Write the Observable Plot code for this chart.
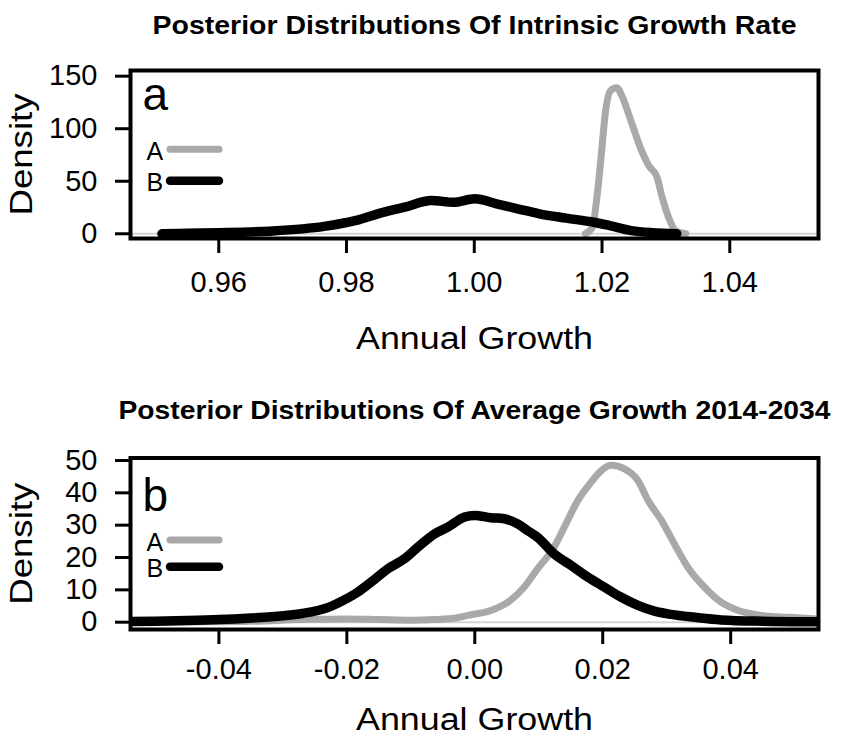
<!DOCTYPE html>
<html><head><meta charset="utf-8">
<script src="https://cdn.jsdelivr.net/npm/d3@7"></script>
<script src="https://cdn.jsdelivr.net/npm/@observablehq/plot@0.6"></script>
<style>
html,body{margin:0;padding:0;background:#fff;}
#root{position:relative;width:845px;height:738px;overflow:hidden;background:#fff;}
#root svg{position:absolute;left:0;}
</style></head>
<body><div id="root"></div>
<script>
// ---- text ----
const titleTop = "Posterior Distributions Of Intrinsic Growth Rate";
const titleBottom = "Posterior Distributions Of Average Growth 2014-2034";
const xLabel = "Annual Growth";
const yLabel = "Density";
const panelLetters = ["a", "b"];
const seriesNames = ["A", "B"];
const seriesColors = ["#a9a9a9", "#000000"];

// ---- tick labels ----
const ticksX1 = [0.96, 0.98, 1.00, 1.02, 1.04];
const ticksY1 = [0, 50, 100, 150];
const ticksX2 = [-0.04, -0.02, 0.00, 0.02, 0.04];
const ticksY2 = [0, 10, 20, 30, 40, 50];

// ---- panel a: intrinsic growth rate ----
const growth1A = [1.0174, 1.0185, 1.0192, 1.0199, 1.0205, 1.0213, 1.0223, 1.0232, 1.0245, 1.0260, 1.0273, 1.0286, 1.0294, 1.0304, 1.0315, 1.0331];
const density1A = [0, 6.3, 34.8, 76, 114, 136, 139, 130, 108, 82, 65, 54, 35, 16, 3, 0];
const growth1B = [0.9511, 0.955, 0.960, 0.968, 0.9765, 0.9798, 0.9815, 0.9849, 0.9891, 0.9933, 0.9967, 1.0001, 1.0035, 1.0068, 1.0102, 1.0144, 1.0187, 1.0212, 1.0246, 1.0279, 1.0317];
const density1B = [0, 0.5, 1, 2.5, 7, 10.5, 12.7, 19, 25.3, 31.7, 30, 33.3, 28.5, 23.8, 19, 14.9, 11, 7.8, 3, 1, 0];

// ---- panel b: average growth 2014-2034 ----
const growth2A = [-0.06, -0.045, -0.035, -0.027, -0.020, -0.015, -0.010, -0.0063, -0.003, -0.0011, 0.0025, 0.0052, 0.0077, 0.0098, 0.0124, 0.0140, 0.0161, 0.0182, 0.0198, 0.0213, 0.0234, 0.0255, 0.0271, 0.0292, 0.0312, 0.0333, 0.0359, 0.0385, 0.0412, 0.0448, 0.0490, 0.0537, 0.060];
const density2A = [0, 0.1, 0.3, 0.8, 1.0, 0.8, 0.6, 0.8, 1.3, 2.1, 3.6, 6.2, 10.8, 16.5, 23.2, 29.4, 37.6, 43.3, 46.9, 48.5, 47.4, 43.8, 37.6, 31.4, 24.2, 17, 10.8, 6.2, 3.6, 2.1, 1.5, 1.0, 0.5];
const growth2B = [-0.060, -0.050, -0.045, -0.040, -0.035, -0.030, -0.027, -0.023, -0.0204, -0.0183, -0.0162, -0.0136, -0.0110, -0.0089, -0.0063, -0.0042, -0.0016, 0.0000, 0.0025, 0.0046, 0.0067, 0.0085, 0.0098, 0.0124, 0.0151, 0.0177, 0.0203, 0.0229, 0.0255, 0.0281, 0.0307, 0.0344, 0.0385, 0.045, 0.055, 0.060];
const density2B = [0.1, 0.3, 0.5, 0.8, 1.3, 2.0, 2.7, 4.5, 6.9, 9.3, 12.4, 16.5, 19.6, 23.2, 27.3, 29.4, 32.5, 33, 32.3, 32, 30.4, 28, 26.3, 21.1, 17.5, 13.9, 10.8, 7.7, 5.2, 3.4, 2.4, 1.5, 0.7, 0.3, 0.1, 0];

const FONT = "'Liberation Sans', Arial, Helvetica, sans-serif";
const fmt = d => d.toFixed(2);

function rows(xs, ys, s) { return xs.map((x, i) => ({x, y: ys[i], s})); }

function panel(cfg) {
  const dataA = rows(cfg.xa, cfg.ya, seriesNames[0]);
  const dataB = rows(cfg.xb, cfg.yb, seriesNames[1]);
  const legendText = (name, dy) => Plot.text([name], {
    text: d => d, frameAnchor: "top-left", textAnchor: "start", lineAnchor: "bottom",
    dx: 16, dy, fontSize: 25
  });
  const svg = Plot.plot({
    width: 845, height: 369,
    marginLeft: 130, marginRight: 27, marginTop: cfg.mt, marginBottom: cfg.mb,
    style: {fontFamily: FONT, background: "transparent", overflow: "visible"},
    x: {domain: cfg.xd},
    y: {domain: cfg.yd},
    color: {domain: seriesNames, range: seriesColors},
    marks: [
      Plot.ruleY([0], {stroke: "#d4d4d4", strokeWidth: 2}),
      Plot.line(dataA, {x: "x", y: "y", stroke: "s", strokeWidth: 7, strokeLinecap: "round", strokeLinejoin: "round", curve: "monotone-x", clip: true}),
      Plot.line(dataB, {x: "x", y: "y", stroke: "s", strokeWidth: 9.5, strokeLinecap: "round", strokeLinejoin: "round", curve: "monotone-x", clip: true}),
      Plot.frame({stroke: "black", strokeWidth: 4}),
      Plot.axisX({ticks: cfg.tx, tickSize: 15, tickPadding: cfg.txPad, strokeWidth: 3, fontSize: 29, tickFormat: fmt, label: null}),
      Plot.axisY({ticks: cfg.ty, tickSize: 15, tickPadding: 18, strokeWidth: 3, fontSize: 29, label: null}),
      Plot.text([cfg.title], {text: d => d, frameAnchor: "top", textAnchor: "middle", lineAnchor: "bottom", dy: cfg.titleDy, fontSize: 25, fontWeight: "bold", className: "ptitle"}),
      Plot.text([xLabel], {text: d => d, frameAnchor: "bottom", textAnchor: "middle", lineAnchor: "bottom", dy: cfg.xlabDy, fontSize: 31, className: "xlab"}),
      Plot.text([yLabel], {text: d => d, frameAnchor: "left", textAnchor: "middle", lineAnchor: "bottom", rotate: -90, dx: -99, fontSize: 32, className: "ylab"}),
      Plot.text([cfg.letter], {text: d => d, frameAnchor: "top-left", textAnchor: "start", lineAnchor: "bottom", dx: 12, dy: cfg.letterDy, fontSize: 46}),
      legendText(seriesNames[0], cfg.legTextDy[0]),
      legendText(seriesNames[1], cfg.legTextDy[1])
    ]
  });
  const s = d3.select(svg);
  s.selectAll(".ptitle text").attr("textLength", cfg.titleLen).attr("lengthAdjust", "spacingAndGlyphs");
  s.selectAll(".xlab text").attr("textLength", 237).attr("lengthAdjust", "spacingAndGlyphs");
  s.selectAll(".ylab text").attr("textLength", 122).attr("lengthAdjust", "spacingAndGlyphs");
  // legend keys
  const g = s.append("g");
  seriesNames.forEach((name, i) => {
    g.append("line")
      .attr("x1", 170).attr("x2", 219)
      .attr("y1", cfg.legLineY[i]).attr("y2", cfg.legLineY[i])
      .attr("stroke", seriesColors[i]).attr("stroke-width", i === 0 ? 7 : 8.5)
      .attr("stroke-linecap", "round");
  });
  svg.style.top = cfg.top + "px";
  return svg;
}

const root = document.getElementById("root");
root.appendChild(panel({
  top: 0, mt: 70, mb: 131,
  xa: growth1A, ya: density1A, xb: growth1B, yb: density1B,
  xd: [0.94618, 1.05389], yd: [-4.5, 155.4],
  tx: ticksX1, ty: ticksY1, txPad: 17.7,
  title: titleTop, titleDy: -36.7, titleLen: 644, xlabDy: 110,
  letter: panelLetters[0], letterDy: 39,
  legTextDy: [89.3, 120], legLineY: [149.3, 180.7]
}));
root.appendChild(panel({
  top: 369, mt: 88.5, mb: 109,
  xa: growth2A, ya: density2A, xb: growth2B, yb: density2B,
  xd: [-0.05382, 0.05373], yd: [-2.26, 50.77],
  tx: ticksX2, ty: ticksY2, txPad: 14.3,
  title: titleBottom, titleDy: -39.2, titleLen: 712, xlabDy: 100,
  letter: panelLetters[1], letterDy: 52.5,
  legTextDy: [93.2, 119.2], legLineY: [171, 197.7]
}));
</script>
</body></html>
